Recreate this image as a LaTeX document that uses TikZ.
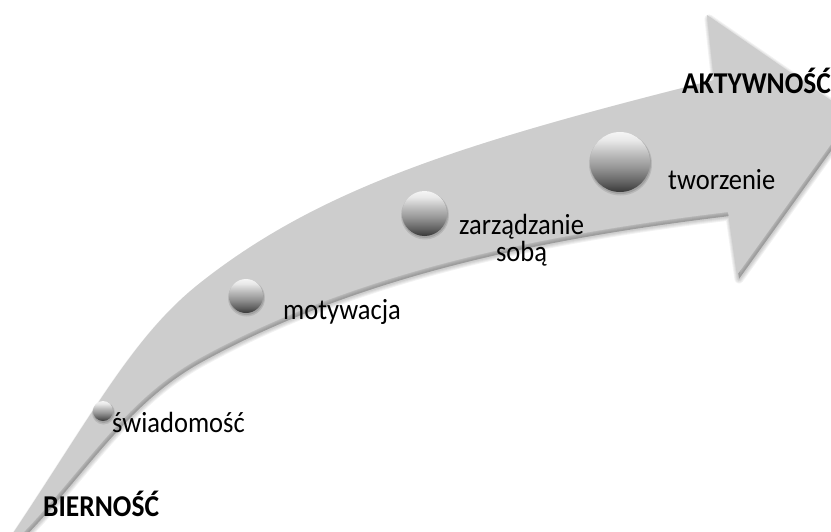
\documentclass[tikz,border=0pt]{standalone}
\usepackage{fontspec}
\setmainfont{Carlito}
\definecolor{arrowgray}{HTML}{CDCDCD}
% vertical shading for the glossy balls (visible part is 25bp..75bp)
\pgfdeclareverticalshading{ballshade}{100bp}{%
  color(0bp)=(black!80);
  color(25bp)=(black!78);
  color(33bp)=(black!62);
  color(45bp)=(black!42);
  color(58bp)=(black!24);
  color(68bp)=(black!9);
  color(75bp)=(white!96!black);
  color(100bp)=(white!96!black)}
% slightly tall lettering
\newcommand{\tall}[1]{\scalebox{1}[1.1]{#1}}
\begin{document}
\begin{tikzpicture}[x=1pt,y=-1pt,
  lbl/.style={font=\fontsize{26.5}{28}\selectfont, inner sep=0pt, text=black},
  boldlbl/.style={lbl, font=\fontsize{27.5}{28}\selectfont\bfseries},
  ball/.style={circle, inner sep=0pt, shading=ballshade}]
\useasboundingbox (0,0) rectangle (831,531);
% outline of the curved arrow: outer edge, head, inner edge
\def\arrowpath{(-5,560) .. controls (90,420) and (130,338.3) .. (200,283)
  .. controls (320,188) and (464,142.5) .. (714,80)
  -- (707,15) -- (852,115) -- (737,275) -- (728,212)
  .. controls (528,236) and (350,275.5) .. (200,358)
  .. controls (115,404.8) and (75,488) .. (-5,560) -- cycle}
\begin{scope}
  \clip (0,0) rectangle (831,531);
  % soft shadow under the arrow
  \begin{scope}[shift={(2,4)}]
    \foreach \w in {9,7,5,3}
      \draw[black, opacity=0.05, line width=\w pt, line join=round] \arrowpath;
    \fill[black, opacity=0.24] \arrowpath;
  \end{scope}
  \fill[arrowgray] \arrowpath;
  % ball shadows
  \foreach \cx/\cy/\r in {103/411/10, 246/296/17, 424.5/213.5/22.5, 620/162/30} {
    \fill[black, opacity=0.10] (\cx+0.5,\cy+2) circle (\r+1.5);
    \fill[black, opacity=0.12] (\cx+0.5,\cy+1.5) circle (\r+0.5);
  }
  % glossy balls
  \node[ball, minimum size=20pt] (b1) at (103,411) {};
  \node[ball, minimum size=34pt] (b2) at (246,296) {};
  \node[ball, minimum size=45pt] (b3) at (424.5,213.5) {};
  \node[ball, minimum size=60pt] (b4) at (620,162) {};
  % labels
  \node[lbl, anchor=base west] (t1) at (112,432) {\tall{świadomość}};
  \node[lbl, anchor=base west] (t2) at (283,319) {\tall{motywacja}};
  \node[lbl, anchor=base] (t3) at (521.5,234)
    {\tall{\begin{tabular}[t]{@{}c@{}}zarządzanie\\[-2.6pt]sobą\end{tabular}}};
  \node[lbl, anchor=base west] (t4) at (668,189) {\tall{tworzenie}};
  \node[boldlbl, anchor=base west] (start) at (43,516) {\tall{BIERNOŚĆ}};
  \node[boldlbl, anchor=base west] (end) at (682,93) {\tall{AKTYWNOŚĆ}};
\end{scope}
\end{tikzpicture}
\end{document}
